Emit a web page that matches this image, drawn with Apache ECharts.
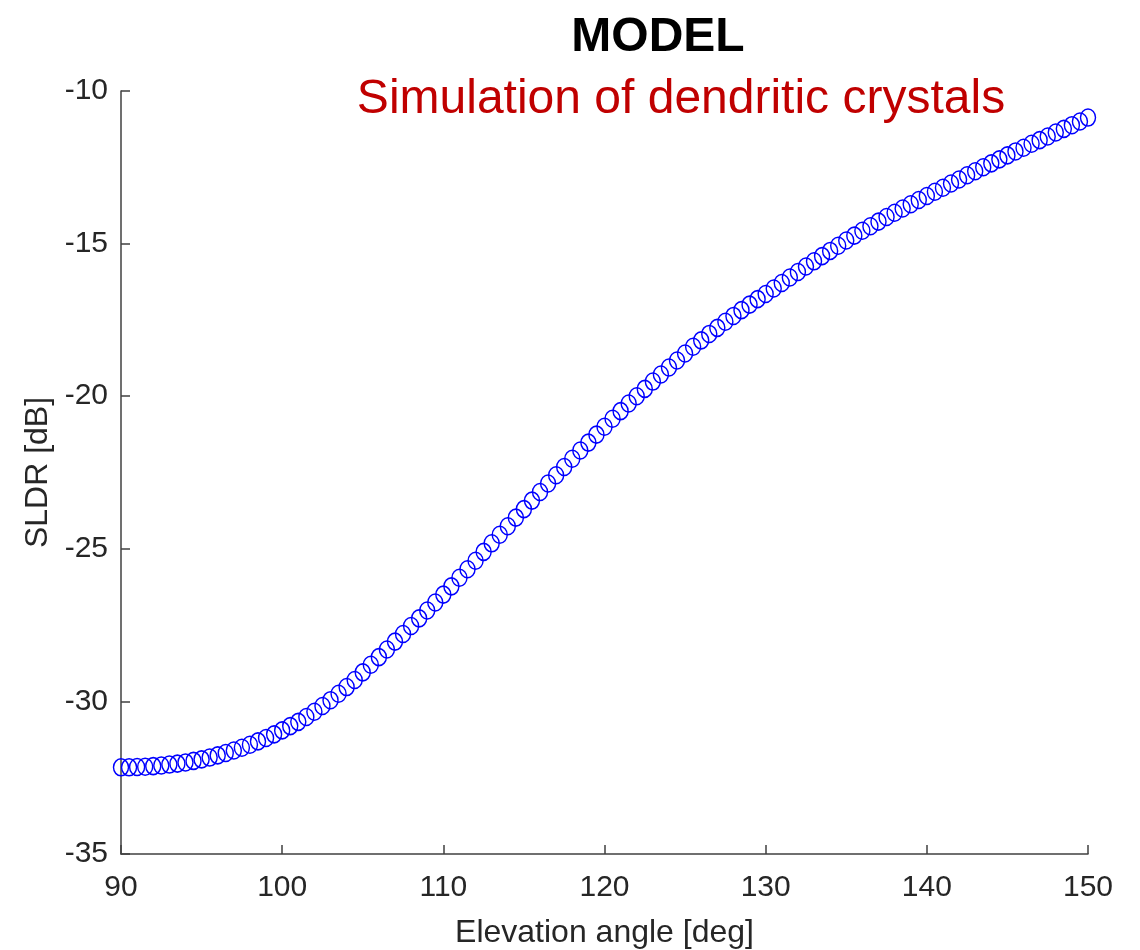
<!DOCTYPE html>
<html>
<head>
<meta charset="utf-8">
<script src="https://cdn.jsdelivr.net/npm/echarts@6/dist/echarts.min.js"></script>
<style>html,body{margin:0;padding:0;background:#fff;}#chart{width:1140px;height:950px;}</style>
</head>
<body>
<div id="chart"></div>
<script>
var angleStart = 90;
var angleStep = 0.5;
var sldrValues = [
  -32.16,-32.16,-32.15,-32.14,-32.12,-32.10,-32.07,-32.04,-32.00,-31.95,
  -31.90,-31.84,-31.77,-31.69,-31.61,-31.52,-31.42,-31.31,-31.20,-31.08,
  -30.95,-30.81,-30.67,-30.51,-30.34,-30.15,-29.96,-29.75,-29.53,-29.30,
  -29.05,-28.80,-28.55,-28.30,-28.04,-27.79,-27.53,-27.28,-27.02,-26.76,
  -26.50,-26.23,-25.95,-25.67,-25.39,-25.10,-24.82,-24.54,-24.26,-23.98,
  -23.70,-23.42,-23.14,-22.86,-22.59,-22.32,-22.05,-21.78,-21.52,-21.26,
  -21.00,-20.74,-20.49,-20.24,-20.00,-19.76,-19.52,-19.29,-19.06,-18.83,
  -18.60,-18.38,-18.17,-17.96,-17.76,-17.56,-17.37,-17.18,-17.00,-16.82,
  -16.65,-16.47,-16.29,-16.11,-15.93,-15.75,-15.58,-15.41,-15.24,-15.07,
  -14.90,-14.74,-14.58,-14.43,-14.28,-14.13,-13.99,-13.85,-13.71,-13.57,
  -13.44,-13.30,-13.17,-13.03,-12.90,-12.76,-12.63,-12.50,-12.37,-12.24,
  -12.11,-11.98,-11.86,-11.73,-11.61,-11.49,-11.36,-11.24,-11.12,-11.00,
  -10.87
];
var xTicks = [90, 100, 110, 120, 130, 140, 150];
var yTicks = [-35, -30, -25, -20, -15, -10];
var titleText = 'MODEL';
var subtitleText = 'Simulation of dendritic crystals';
var xName = 'Elevation angle [deg]';
var yName = 'SLDR [dB]';

var points = sldrValues.map(function (v, i) { return [angleStart + i * angleStep, v]; });

var chart = echarts.init(document.getElementById('chart'), null, {renderer: 'canvas'});
var axisColor = '#404040';
var labelColor = '#262626';
var font = '"Liberation Sans", Arial, Helvetica, sans-serif';
chart.setOption({
  backgroundColor: '#ffffff',
  animation: false,
  grid: {left: 121, right: 52, top: 91, bottom: 96, containLabel: false, outerBoundsMode: 'none'},
  graphic: [
    {type: 'text', style: {text: titleText, x: 658, y: 14, textAlign: 'center', textVerticalAlign: 'top', font: 'bold 48px ' + font, fill: '#000000'}},
    {type: 'text', style: {text: subtitleText, x: 681, y: 76, textAlign: 'center', textVerticalAlign: 'top', font: '48px ' + font, fill: '#c00000'}}
  ],
  xAxis: {
    type: 'value', min: xTicks[0], max: xTicks[xTicks.length - 1], interval: 10,
    name: xName, nameLocation: 'middle', nameGap: 63,
    nameTextStyle: {fontSize: 32, color: labelColor, fontFamily: font},
    axisLine: {show: true, onZero: false, lineStyle: {color: axisColor, width: 1.5}},
    axisTick: {show: true, inside: true, length: 9, lineStyle: {color: axisColor, width: 1.5}},
    axisLabel: {fontSize: 30, color: labelColor, fontFamily: font, margin: 19},
    splitLine: {show: false}
  },
  yAxis: {
    type: 'value', min: yTicks[0], max: yTicks[yTicks.length - 1], interval: 5,
    name: yName, nameLocation: 'middle', nameGap: 67, nameRotate: 90,
    nameTextStyle: {fontSize: 32, color: labelColor, fontFamily: font},
    axisLine: {show: true, onZero: false, lineStyle: {color: axisColor, width: 1.5}},
    axisTick: {show: true, inside: true, length: 9, lineStyle: {color: axisColor, width: 1.5}},
    axisLabel: {fontSize: 30, color: labelColor, fontFamily: font, margin: 13},
    splitLine: {show: false}
  },
  series: [{
    type: 'scatter',
    data: points,
    symbol: 'circle',
    symbolSize: [15, 17],
    itemStyle: {color: 'rgba(0,0,0,0)', borderColor: '#0000ff', borderWidth: 1.5, opacity: 1},
    clip: false
  }]
});
</script>
</body>
</html>
